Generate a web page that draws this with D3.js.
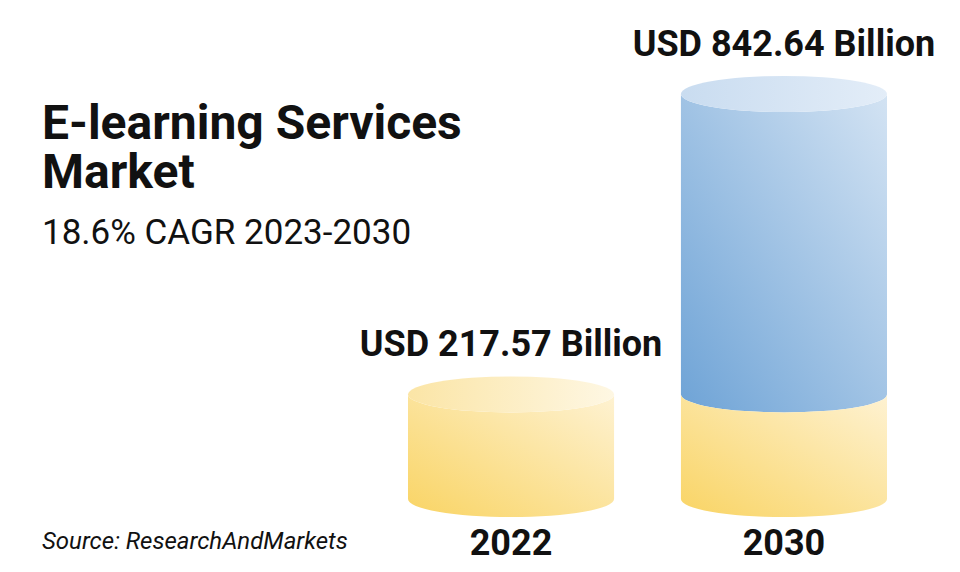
<!DOCTYPE html>
<html>
<head>
<meta charset="utf-8">
<script src="https://cdn.jsdelivr.net/npm/d3@7"></script>
<style>
  body { margin: 0; background: #fff; }
  svg { display: block; font-family: Roboto, sans-serif; }
</style>
</head>
<body>
<div id="chart"></div>
<script>
const years = ['2022', '2030']
const values = [217.57, 842.64]
const baseValue = 217.57 // yellow base shared by both cylinders
const valueLabels = ['USD 217.57 Billion', 'USD 842.64 Billion']

const width = 960
const height = 572

const svg = d3.select('#chart').append('svg')
  .attr('width', width)
  .attr('height', height)

const defs = svg.append('defs')

function grad(id, x1, y1, x2, y2, stops) {
  const g = defs.append('linearGradient').attr('id', id)
    .attr('x1', x1).attr('y1', y1).attr('x2', x2).attr('y2', y2)
  stops.forEach(s => g.append('stop').attr('offset', s[0]).attr('stop-color', s[1]))
}
grad('ySide', '0', '1', '1', '0', [[0, '#f9d464'], [1, '#fef2d2']])
grad('yTop', '0', '0', '1', '0', [[0, '#fbe5a6'], [1, '#fef7e3']])
grad('bSide', '0', '1', '1', '0', [[0, '#6ea3d6'], [1, '#d3e3f3']])
grad('bTop', '0', '0', '1', '0', [[0, '#c9dcf0'], [1, '#e3edf8']])

const x = d3.scaleBand().domain(years).range([408, 887]).paddingInner(0.245).paddingOuter(0)
const y = d3.scaleLinear().domain([0, d3.max(values)]).range([499, 94])

const ry = 18

function cylinder(g, cx, rx, yBot, yTop, side, top) {
  g.append('path')
    .attr('d', `M${cx - rx},${yTop} L${cx - rx},${yBot} A${rx},${ry} 0 0 0 ${cx + rx},${yBot} L${cx + rx},${yTop} A${rx},${ry} 0 0 1 ${cx - rx},${yTop} Z`)
    .attr('fill', `url(#${side})`)
  if (top) {
    g.append('ellipse')
      .attr('cx', cx).attr('cy', yTop).attr('rx', rx).attr('ry', ry)
      .attr('fill', `url(#${top})`)
  }
}

years.forEach((yr, i) => {
  const g = svg.append('g')
  const rx = x.bandwidth() / 2
  const cx = x(yr) + rx
  if (values[i] > baseValue) {
    // blue upper part first, yellow base drawn over its bottom
    cylinder(g, cx, rx, y(baseValue), y(values[i]), 'bSide', 'bTop')
    cylinder(g, cx, rx, y(0), y(baseValue), 'ySide', null)
  } else {
    cylinder(g, cx, rx, y(0), y(values[i]), 'ySide', 'yTop')
  }
  g.append('text')
    .attr('x', cx).attr('y', y(values[i]) - 38)
    .attr('text-anchor', 'middle')
    .style('font-size', '36px').style('font-weight', 700)
    .attr('fill', '#111')
    .text(valueLabels[i])
  g.append('text')
    .attr('x', cx).attr('y', 555)
    .attr('text-anchor', 'middle')
    .style('font-size', '36px').style('font-weight', 700)
    .attr('fill', '#111')
    .text(yr)
})

svg.append('text').attr('x', 42).attr('y', 139)
  .style('font-size', '48px').style('font-weight', 700).attr('fill', '#111')
  .text('E-learning Services')
svg.append('text').attr('x', 42).attr('y', 188)
  .style('font-size', '48px').style('font-weight', 700).attr('fill', '#111')
  .text('Market')
svg.append('text').attr('x', 42).attr('y', 244)
  .style('font-size', '35px').attr('fill', '#111')
  .text('18.6% CAGR 2023-2030')
svg.append('text').attr('x', 42).attr('y', 549)
  .style('font-size', '24px').style('font-style', 'italic').attr('fill', '#111')
  .text('Source: ResearchAndMarkets')
</script>
</body>
</html>
